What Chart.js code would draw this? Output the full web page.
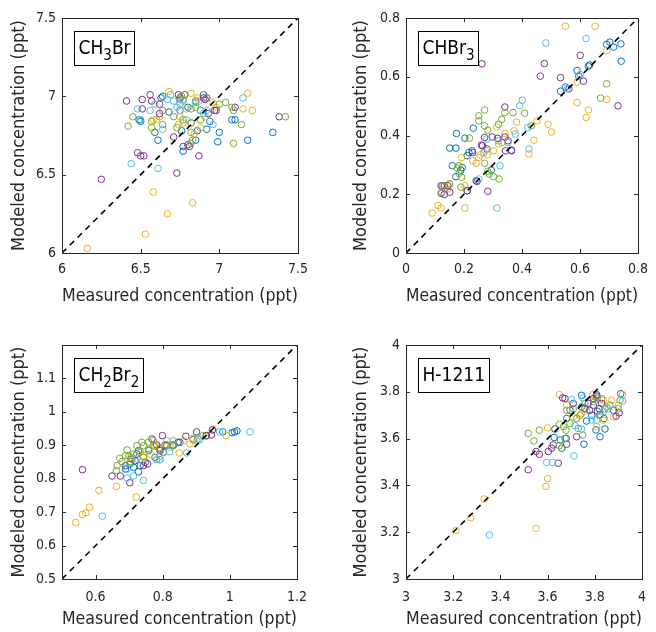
<!DOCTYPE html>
<html>
<head>
<meta charset="utf-8">
<script src="https://cdn.jsdelivr.net/npm/chart.js@4.4.1/dist/chart.umd.min.js"></script>
<style>
  body { margin: 0; background: #fff; }
  #wrap { position: relative; width: 656px; height: 632px; overflow: hidden; }
  .panel { position: absolute; }
</style>
</head>
<body>
<div id="wrap">
  <div class="panel" style="left:0;top:0"><canvas id="c1" width="328" height="316"></canvas></div>
  <div class="panel" style="left:328px;top:0"><canvas id="c2" width="328" height="316"></canvas></div>
  <div class="panel" style="left:0;top:316px"><canvas id="c3" width="328" height="316"></canvas></div>
  <div class="panel" style="left:328px;top:316px"><canvas id="c4" width="328" height="316"></canvas></div>
</div>
<script>
// panel names, "_" marks a subscript character
const names = ["CH_3Br", "CHBr_3", "CH_2Br_2", "H-1211"];
const xTitle = "Measured concentration (ppt)";
const yTitle = "Modeled concentration (ppt)";

// series colours (no legend in the figure)
const colors = ["#0072BD", "#EDB120", "#7E2F8E", "#77AC30", "#4DBEEE"];

// axis ranges and ticks
const ranges = [[6, 7.5], [0, 0.8], [0.5, 1.2], [3, 4]];
const xTicks = [
  [6, 6.5, 7, 7.5],
  [0, 0.2, 0.4, 0.6, 0.8],
  [0.6, 0.8, 1, 1.2],
  [3, 3.2, 3.4, 3.6, 3.8, 4],
];
const yTicks = [
  [6, 6.5, 7, 7.5],
  [0, 0.2, 0.4, 0.6, 0.8],
  [0.5, 0.6, 0.7, 0.8, 0.9, 1, 1.1],
  [3, 3.2, 3.4, 3.6, 3.8, 4],
];

// CH3Br  [measured, modeled]
const ch3brBlue = [[6.63,6.99],[6.90,7.01],[6.92,6.99],[6.85,6.97],[6.88,6.91],[7.08,6.85],[7.10,6.85],[7.00,6.77],[6.99,6.71],[6.85,6.72],[6.77,6.68],[6.77,6.65],[6.61,6.72],[6.59,6.77],[6.76,6.78],[6.86,6.78],[6.92,6.79],[7.18,6.72],[7.34,6.77],[6.49,6.85],[6.50,6.84],[6.64,7.00],[6.80,6.93],[6.75,6.91],[6.82,6.83],[6.68,6.90],[6.94,6.84]];
const ch3brYellow = [[6.68,7.03],[6.82,7.02],[6.86,6.99],[6.87,6.97],[6.96,6.96],[7.18,7.02],[7.15,6.92],[7.21,6.91],[6.60,6.85],[6.58,6.85],[6.62,6.87],[6.75,6.87],[6.77,6.83],[6.82,6.83],[6.74,6.82],[6.91,6.87],[6.88,6.80],[6.84,6.76],[6.58,6.39],[6.83,6.32],[6.67,6.25],[6.53,6.12],[6.16,6.03],[6.79,6.92],[6.98,6.93],[6.75,6.98]];
const ch3brPurple = [[6.41,6.97],[6.51,6.98],[6.56,7.01],[6.57,6.97],[6.51,6.92],[6.62,6.95],[6.62,6.89],[6.74,7.01],[6.75,6.99],[6.78,7.01],[6.71,6.74],[6.48,6.64],[6.50,6.62],[6.52,6.62],[6.25,6.47],[6.73,6.51],[6.87,6.62],[6.80,6.69],[6.81,6.68],[6.90,6.99],[6.91,6.98],[6.93,6.89],[6.97,6.91],[6.98,6.91],[7.10,6.93],[7.38,6.87]];
const ch3brGreen = [[6.77,6.98],[6.76,7.00],[6.82,6.92],[6.85,6.93],[6.92,6.99],[7.00,6.95],[7.04,6.96],[7.08,6.93],[7.09,6.91],[7.14,6.82],[7.09,6.70],[7.42,6.87],[6.45,6.87],[6.42,6.81],[6.57,6.84],[6.57,6.80],[6.64,6.91],[6.71,6.87],[6.77,6.85],[6.73,6.80],[6.82,6.77],[6.83,6.72],[6.82,6.70],[6.64,6.82],[6.88,6.85]];
const ch3brCyan = [[6.69,7.01],[6.71,6.97],[6.73,6.93],[6.48,6.92],[6.56,6.91],[6.44,6.57],[6.61,6.54],[6.64,6.79],[6.96,6.82],[7.15,6.99],[6.88,6.91],[6.90,6.89],[6.75,6.95],[6.77,6.97],[6.85,6.96],[6.59,6.95],[6.92,6.91],[6.67,6.98],[6.79,6.85],[6.50,6.85]];

// CHBr3
const chbr3Blue = [[0.174,0.407],[0.151,0.357],[0.172,0.357],[0.203,0.391],[0.232,0.425],[0.160,0.297],[0.189,0.282],[0.172,0.260],[0.211,0.331],[0.217,0.342],[0.228,0.348],[0.194,0.291],[0.294,0.282],[0.211,0.212],[0.364,0.348],[0.242,0.246],[0.533,0.551],[0.550,0.565],[0.590,0.621],[0.629,0.636],[0.633,0.640],[0.692,0.710],[0.703,0.718],[0.716,0.701],[0.741,0.712],[0.742,0.653],[0.596,0.602],[0.279,0.354]];
const chbr3Yellow = [[0.550,0.772],[0.652,0.772],[0.692,0.689],[0.590,0.582],[0.590,0.512],[0.629,0.487],[0.621,0.461],[0.692,0.523],[0.452,0.450],[0.490,0.438],[0.502,0.412],[0.441,0.384],[0.424,0.337],[0.381,0.446],[0.373,0.416],[0.341,0.407],[0.313,0.429],[0.319,0.371],[0.302,0.348],[0.273,0.350],[0.257,0.334],[0.251,0.325],[0.242,0.305],[0.230,0.314],[0.192,0.325],[0.149,0.235],[0.144,0.218],[0.203,0.229],[0.203,0.153],[0.110,0.162],[0.121,0.153],[0.090,0.136],[0.330,0.376],[0.282,0.334]];
const chbr3Purple = [[0.262,0.644],[0.477,0.645],[0.463,0.602],[0.533,0.597],[0.601,0.673],[0.612,0.585],[0.562,0.559],[0.731,0.501],[0.341,0.497],[0.271,0.393],[0.298,0.395],[0.316,0.390],[0.341,0.395],[0.352,0.382],[0.260,0.367],[0.264,0.365],[0.343,0.348],[0.364,0.350],[0.230,0.342],[0.245,0.244],[0.282,0.210],[0.211,0.212],[0.121,0.229],[0.132,0.229],[0.144,0.229],[0.151,0.207],[0.132,0.199],[0.121,0.203]];
const chbr3Green = [[0.271,0.487],[0.251,0.467],[0.251,0.450],[0.341,0.478],[0.369,0.478],[0.409,0.476],[0.330,0.455],[0.319,0.438],[0.271,0.433],[0.282,0.418],[0.219,0.391],[0.432,0.433],[0.692,0.576],[0.671,0.527],[0.183,0.297],[0.177,0.289],[0.183,0.271],[0.192,0.258],[0.189,0.224],[0.124,0.207],[0.126,0.229],[0.271,0.305],[0.282,0.278],[0.287,0.269],[0.302,0.260],[0.321,0.252],[0.151,0.235]];
const chbr3Cyan = [[0.482,0.715],[0.621,0.730],[0.601,0.608],[0.401,0.520],[0.392,0.501],[0.420,0.427],[0.424,0.354],[0.377,0.405],[0.324,0.297],[0.313,0.153],[0.251,0.252],[0.279,0.388],[0.319,0.382],[0.352,0.376],[0.556,0.560],[0.268,0.342]];

// CH2Br2
const ch2br2Blue = [[0.689,0.829],[0.703,0.844],[0.713,0.834],[0.728,0.821],[0.733,0.839],[0.708,0.859],[0.723,0.874],[0.758,0.884],[0.777,0.864],[0.792,0.889],[0.807,0.901],[0.831,0.899],[0.851,0.909],[0.891,0.917],[0.930,0.929],[0.979,0.940],[1.007,0.938],[1.014,0.940],[1.021,0.943],[0.802,0.879],[0.748,0.849]];
const ch2br2Yellow = [[0.541,0.669],[0.561,0.693],[0.571,0.698],[0.582,0.715],[0.610,0.765],[0.662,0.777],[0.721,0.745],[0.849,0.877],[0.790,0.894],[0.763,0.874],[0.792,0.867],[0.743,0.869],[0.703,0.864],[0.822,0.894],[0.881,0.904],[0.901,0.914],[0.930,0.927],[0.950,0.948],[0.989,0.929],[0.861,0.914],[0.772,0.899],[0.812,0.914],[0.891,0.921]];
const ch2br2Purple = [[0.561,0.827],[0.649,0.808],[0.674,0.808],[0.702,0.788],[0.689,0.839],[0.718,0.854],[0.755,0.844],[0.768,0.919],[0.799,0.929],[0.812,0.899],[0.831,0.901],[0.869,0.927],[0.901,0.940],[0.945,0.931],[0.948,0.946],[0.930,0.929],[0.846,0.909],[0.792,0.884],[0.728,0.884],[0.782,0.901],[0.743,0.839]];
const ch2br2Green = [[0.672,0.861],[0.664,0.839],[0.662,0.824],[0.679,0.851],[0.699,0.869],[0.713,0.874],[0.733,0.879],[0.743,0.899],[0.758,0.909],[0.772,0.914],[0.782,0.857],[0.792,0.857],[0.723,0.899],[0.738,0.909],[0.758,0.889],[0.812,0.901],[0.831,0.899],[0.703,0.851],[0.689,0.869],[0.905,0.919],[0.920,0.929],[0.743,0.864],[0.777,0.897],[0.694,0.886]];
const ch2br2Cyan = [[0.620,0.688],[0.743,0.795],[0.713,0.808],[0.694,0.802],[0.871,0.877],[0.820,0.881],[0.790,0.857],[0.831,0.914],[0.969,0.940],[1.060,0.940],[0.911,0.917],[0.723,0.859],[0.694,0.829]];

// H-1211
const h1211Blue = [[3.744,3.785],[3.808,3.788],[3.811,3.774],[3.910,3.792],[3.631,3.641],[3.628,3.605],[3.653,3.594],[3.681,3.686],[3.679,3.601],[3.660,3.559],[3.754,3.576],[3.805,3.637],[3.822,3.608],[3.843,3.641],[3.839,3.686],[3.819,3.728],[3.794,3.743],[3.744,3.735],[3.765,3.675],[3.787,3.700],[3.879,3.721],[3.695,3.721]];
const h1211Yellow = [[3.650,3.788],[3.212,3.208],[3.274,3.262],[3.331,3.342],[3.551,3.216],[3.593,3.396],[3.600,3.429],[3.600,3.646],[3.791,3.788],[3.801,3.778],[3.871,3.764],[3.918,3.788],[3.900,3.743],[3.879,3.693],[3.808,3.651],[3.836,3.679],[3.765,3.721],[3.681,3.743],[3.709,3.693],[3.836,3.764],[3.744,3.707],[3.850,3.735]];
const h1211Purple = [[3.518,3.467],[3.551,3.545],[3.565,3.533],[3.603,3.545],[3.617,3.559],[3.624,3.573],[3.645,3.495],[3.681,3.576],[3.723,3.608],[3.664,3.774],[3.674,3.771],[3.709,3.750],[3.758,3.728],[3.772,3.750],[3.794,3.771],[3.808,3.782],[3.829,3.750],[3.778,3.721],[3.811,3.717],[3.890,3.696],[3.903,3.710],[3.822,3.703]];
const h1211Green = [[3.518,3.622],[3.542,3.590],[3.565,3.636],[3.650,3.661],[3.674,3.601],[3.650,3.570],[3.678,3.636],[3.695,3.665],[3.681,3.721],[3.709,3.728],[3.730,3.644],[3.749,3.615],[3.738,3.700],[3.758,3.750],[3.798,3.757],[3.829,3.771],[3.907,3.764],[3.900,3.728],[3.843,3.728],[3.723,3.686],[3.667,3.651],[3.819,3.700],[3.864,3.743]];
const h1211Cyan = [[3.353,3.188],[3.596,3.498],[3.621,3.498],[3.712,3.526],[3.702,3.768],[3.749,3.774],[3.744,3.641],[3.787,3.679],[3.808,3.679],[3.857,3.728],[3.918,3.760],[3.836,3.714],[3.716,3.655]];

const panelSeries = [
  [ch3brBlue, ch3brYellow, ch3brPurple, ch3brGreen, ch3brCyan],
  [chbr3Blue, chbr3Yellow, chbr3Purple, chbr3Green, chbr3Cyan],
  [ch2br2Blue, ch2br2Yellow, ch2br2Purple, ch2br2Green, ch2br2Cyan],
  [h1211Blue, h1211Yellow, h1211Purple, h1211Green, h1211Cyan],
];

// layout per panel (pixels inside each 328x316 canvas)
const layouts = [
  { top: 18, right: 30, yW: 62, xH: 63, yTitlePad: 9, xTitlePad: 9, xTickPad: 8 },
  { top: 18, right: 14, yW: 78, xH: 63, yTitlePad: 23, xTitlePad: 9, xTickPad: 8 },
  { top: 29, right: 31, yW: 62, xH: 53, yTitlePad: 9, xTitlePad: 2, xTickPad: 10 },
  { top: 29, right: 14, yW: 78, xH: 53, yTitlePad: 23, xTitlePad: 2, xTickPad: 10 },
];

const FONT = "'DejaVu Sans Condensed', 'DejaVu Sans', sans-serif";
const INK = "#262626";

const fmt = (v) => String(Math.round(v * 100) / 100);

// box, inward ticks and name label, drawn like the MATLAB axes
const axesBox = {
  id: "axesBox",
  afterDatasetsDraw(chart, args, opts) {
    const { ctx, chartArea: a, scales } = chart;
    const sx = scales.x, sy = scales.y;
    ctx.save();
    ctx.strokeStyle = INK;
    ctx.lineWidth = 1;
    ctx.beginPath();
    const tl = 4;
    sx.ticks.forEach((t) => {
      const px = Math.round(sx.getPixelForValue(t.value)) + 0.5;
      ctx.moveTo(px, a.bottom); ctx.lineTo(px, a.bottom - tl);
      ctx.moveTo(px, a.top); ctx.lineTo(px, a.top + tl);
    });
    sy.ticks.forEach((t) => {
      const py = Math.round(sy.getPixelForValue(t.value)) + 0.5;
      ctx.moveTo(a.left, py); ctx.lineTo(a.left + tl, py);
      ctx.moveTo(a.right, py); ctx.lineTo(a.right - tl, py);
    });
    ctx.stroke();
    ctx.strokeRect(Math.round(a.left) + 0.5, Math.round(a.top) + 0.5,
      Math.round(a.right - a.left), Math.round(a.bottom - a.top));

    // name label with subscripts
    const parts = [];
    const s = opts.name;
    for (let i = 0; i < s.length; i++) {
      if (s[i] === "_") { parts.push([s[i + 1], true]); i++; }
      else parts.push([s[i], false]);
    }
    const big = "19px " + FONT, small = "15px " + FONT;
    let w = 0;
    parts.forEach(([c, sub]) => { ctx.font = sub ? small : big; w += ctx.measureText(c).width; });
    const bx = Math.round(a.left) + 12.5, by = Math.round(a.top) + 13.5;
    const pad = 4, bh = 34;
    ctx.fillStyle = "#fff";
    ctx.fillRect(bx, by, w + 2 * pad, bh);
    ctx.strokeStyle = "#000";
    ctx.strokeRect(bx, by, Math.round(w + 2 * pad), bh);
    ctx.fillStyle = "#000";
    ctx.textBaseline = "alphabetic";
    let cx = bx + pad;
    parts.forEach(([c, sub]) => {
      ctx.font = sub ? small : big;
      ctx.fillText(c, cx, by + (sub ? 28 : 22));
      cx += ctx.measureText(c).width;
    });
    ctx.restore();
  },
};

function makePanel(i) {
  const L = layouts[i];
  const [lo, hi] = ranges[i];
  const datasets = [{
    type: "line",
    data: [{ x: lo, y: lo }, { x: hi, y: hi }],
    borderColor: "#000",
    borderWidth: 1.6,
    borderDash: [6, 5],
    pointRadius: 0,
    fill: false,
    order: 0,
  }];
  panelSeries[i].forEach((pts, k) => {
    datasets.push({
      type: "scatter",
      data: pts.map(([x, y]) => ({ x, y })),
      borderColor: colors[k],
      backgroundColor: "rgba(0,0,0,0)",
      borderWidth: 1,
      pointRadius: 3.3,
      pointHoverRadius: 3.3,
      order: 5 - k,
    });
  });

  return new Chart(document.getElementById("c" + (i + 1)), {
    type: "scatter",
    data: { datasets },
    plugins: [axesBox],
    options: {
      responsive: false,
      animation: false,
      devicePixelRatio: 1,
      layout: { padding: { left: 0, top: L.top, right: L.right, bottom: 0 } },
      plugins: {
        legend: { display: false },
        tooltip: { enabled: false },
        axesBox: { name: names[i] },
      },
      scales: {
        x: {
          type: "linear",
          min: lo,
          max: hi,
          afterBuildTicks: (sc) => { sc.ticks = xTicks[i].map((v) => ({ value: v })); },
          afterFit: (sc) => { sc.height = L.xH; },
          grid: { display: false, drawTicks: false },
          border: { display: false },
          ticks: {
            autoSkip: false, maxRotation: 0, padding: L.xTickPad,
            color: INK, font: { family: FONT, size: 14 },
            callback: fmt,
          },
          title: {
            display: true, text: xTitle, color: INK,
            font: { family: FONT, size: 18 },
            padding: { top: 0, bottom: L.xTitlePad },
          },
        },
        y: {
          type: "linear",
          min: lo,
          max: hi,
          afterBuildTicks: (sc) => { sc.ticks = yTicks[i].map((v) => ({ value: v })); },
          afterFit: (sc) => { sc.width = L.yW; },
          grid: { display: false, drawTicks: false },
          border: { display: false },
          ticks: {
            autoSkip: false, padding: 6,
            color: INK, font: { family: FONT, size: 14 },
            callback: fmt,
          },
          title: {
            display: true, text: yTitle, color: INK,
            font: { family: FONT, size: 18 },
            padding: { top: L.yTitlePad, bottom: 0 },
          },
        },
      },
    },
  });
}

[0, 1, 2, 3].forEach(makePanel);
</script>
</body>
</html>
